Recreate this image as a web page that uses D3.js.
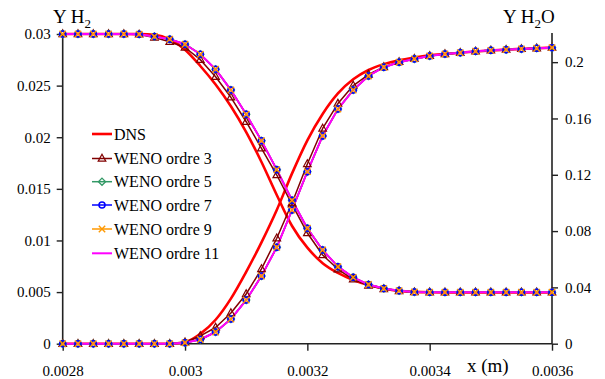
<!DOCTYPE html>
<html><head><meta charset="utf-8">
<script src="https://cdn.jsdelivr.net/npm/d3@7"></script>
<style>body{margin:0;background:#fff}svg{display:block}text{font-family:"Liberation Serif","Times New Roman",serif;fill:#000}</style>
</head><body><svg id="c" width="605" height="379"></svg>
<script>
// ---- data ----
const xPositions = [0.0028,0.002825,0.00285,0.002875,0.0029,0.002925,0.00295,0.002975,0.003,0.003025,0.00305,0.003075,0.0031,0.003125,0.00315,0.003175,0.0032,0.003225,0.00325,0.003275,0.0033,0.003325,0.00335,0.003375,0.0034,0.003425,0.00345,0.003475,0.0035,0.003525,0.00355,0.003575,0.0036];

const dnsH2 = [0.03,0.03,0.03,0.03,0.03,0.02999,0.02992,0.02948,0.02848,0.0269,0.0251,0.0230,0.0205,0.0176,0.0144,0.0114,0.0093,0.0078,0.00685,0.00617,0.00569,0.00535,0.00512,0.00502,0.00498,0.00497,0.00497,0.00497,0.00497,0.00497,0.00497,0.00497,0.00497];
const dnsH2O = [0,0,0,0,0,0,0,0,0.001,0.007,0.017,0.032,0.051,0.072,0.095,0.121,0.1445,0.1632,0.1778,0.1878,0.1944,0.1986,0.2014,0.2033,0.2048,0.2058,0.2067,0.2076,0.2083,0.2089,0.2094,0.2099,0.2103];

const weno3H2 = [0.03,0.03,0.03,0.03,0.03,0.02996,0.02966,0.02925,0.02869,0.02751,0.02586,0.02387,0.0215,0.01893,0.01634,0.0135,0.01072,0.00859,0.00721,0.00624,0.00564,0.0053,0.0051,0.005,0.00498,0.00498,0.00498,0.00498,0.00498,0.00498,0.00498,0.00498,0.00498];
const weno3H2O = [0,0,0,0,0,0,0,0,0.001,0.0055,0.0115,0.0218,0.0353,0.0531,0.0749,0.1,0.1277,0.1529,0.1706,0.1834,0.1912,0.1966,0.2002,0.2025,0.2045,0.2058,0.2067,0.2077,0.2084,0.2089,0.2094,0.2099,0.2103];

// orders 5, 7, 9 and 11 coincide in the figure
const wenoHighH2 = [0.03,0.03,0.03,0.03,0.03,0.02997,0.02976,0.0295,0.02901,0.02804,0.02658,0.02458,0.02222,0.01966,0.01686,0.0139,0.01118,0.00908,0.00746,0.00643,0.00573,0.00535,0.00513,0.00501,0.00498,0.00498,0.00498,0.00498,0.00498,0.00498,0.00498,0.00498,0.00498];
const wenoHighH2O = [0,0,0,0,0,0,0,0,0.0007,0.003,0.0083,0.0175,0.031,0.0481,0.0685,0.095,0.1222,0.1476,0.1667,0.1802,0.1902,0.1964,0.1999,0.2023,0.2044,0.2058,0.2067,0.2077,0.2084,0.2089,0.2094,0.2099,0.2103];

const seriesNames = ["DNS","WENO ordre 3","WENO ordre 5","WENO ordre 7","WENO ordre 9","WENO ordre 11"];
const xTicks = [0.0028,0.003,0.0032,0.0034,0.0036];
const xTickLabels = ["0.0028","0.003","0.0032","0.0034","0.0036"];
const leftTicks = [0,0.005,0.01,0.015,0.02,0.025,0.03];
const leftTickLabels = ["0","0.005","0.01","0.015","0.02","0.025","0.03"];
const rightTicks = [0,0.04,0.08,0.12,0.16,0.2];
const rightTickLabels = ["0","0.04","0.08","0.12","0.16","0.2"];

// ---- drawing ----
const svg = d3.select("#c");
const L = 62.7, R = 552, T = 34, B = 343.7;
const x = d3.scaleLinear().domain([0.0028,0.0036]).range([L,R]);
const yL = d3.scaleLinear().domain([0,0.03]).range([B,T]);
const yR = d3.scaleLinear().domain([0,0.22]).range([B,T]);

const styles = [
  {color:"#ff0000", w:2.6, marker:null, h2:dnsH2, h2o:dnsH2O, curve:d3.curveMonotoneX},
  {color:"#800000", w:1.5, marker:"tri", h2:weno3H2, h2o:weno3H2O, curve:d3.curveLinear},
  {color:"#339966", w:1.5, marker:"dia", h2:wenoHighH2, h2o:wenoHighH2O, curve:d3.curveLinear},
  {color:"#0000ff", w:1.5, marker:"circ", h2:wenoHighH2, h2o:wenoHighH2O, curve:d3.curveLinear},
  {color:"#ff9900", w:1.5, marker:"x", h2:wenoHighH2, h2o:wenoHighH2O, curve:d3.curveLinear},
  {color:"#ff00ff", w:2, marker:null, h2:wenoHighH2, h2o:wenoHighH2O, curve:d3.curveLinear}
];

// axes
const axisColor = "#222";
const gx = svg.append("g").attr("transform",`translate(0,${B})`)
  .call(d3.axisBottom(x).tickValues(xTicks).tickFormat((d,i)=>xTickLabels[i]).tickSize(7).tickPadding(15));
const gl = svg.append("g").attr("transform",`translate(${L},0)`)
  .call(d3.axisLeft(yL).tickValues(leftTicks).tickFormat((d,i)=>leftTickLabels[i]).tickSize(6).tickPadding(6));
const gr = svg.append("g").attr("transform",`translate(${R},0)`)
  .call(d3.axisRight(yR).tickValues(rightTicks).tickFormat((d,i)=>rightTickLabels[i]).tickSize(6).tickPadding(7));
[gx,gl,gr].forEach(g=>{
  g.attr("font-family","'Liberation Serif',serif");
  g.select(".domain").attr("stroke",axisColor).attr("stroke-width",1.6);
  g.selectAll(".tick line").attr("stroke",axisColor).attr("stroke-width",1.4);
  g.selectAll(".tick text").style("font-family","'Liberation Serif',serif").style("font-size","15px").attr("fill","#000");
});
gx.select(".domain").attr("d",`M${L},0H${R}`);
gl.select(".domain").attr("d",`M0,${T}V${B}`);
gr.select(".domain").attr("d",`M0,${T-1}V${B}`);

// lines
const plot = svg.append("g");
styles.forEach(s=>{
  const lH2 = d3.line().x((d,i)=>x(xPositions[i])).y(d=>yL(d)).curve(s.curve);
  const lH2O = d3.line().x((d,i)=>x(xPositions[i])).y(d=>yR(d)).curve(s.curve);
  plot.append("path").attr("d",lH2(s.h2)).attr("fill","none").attr("stroke",s.color).attr("stroke-width",s.w).attr("stroke-linejoin","round");
  plot.append("path").attr("d",lH2O(s.h2o)).attr("fill","none").attr("stroke",s.color).attr("stroke-width",s.w).attr("stroke-linejoin","round");
});

function drawMarker(g, type, color, cx, cy){
  if(type==="tri"){
    g.append("path").attr("d",`M${cx},${cy-4.2}L${cx+3.8},${cy+2.6}L${cx-3.8},${cy+2.6}Z`).attr("fill","none").attr("stroke",color).attr("stroke-width",1.2);
  } else if(type==="dia"){
    g.append("path").attr("d",`M${cx},${cy-3.6}L${cx+3.6},${cy}L${cx},${cy+3.6}L${cx-3.6},${cy}Z`).attr("fill","none").attr("stroke",color).attr("stroke-width",1.3);
  } else if(type==="circ"){
    g.append("circle").attr("cx",cx).attr("cy",cy).attr("r",3).attr("fill","none").attr("stroke",color).attr("stroke-width",1.5);
  } else if(type==="x"){
    g.append("path").attr("d",`M${cx-3.2},${cy-3.2}L${cx+3.2},${cy+3.2}M${cx+3.2},${cy-3.2}L${cx-3.2},${cy+3.2}`).attr("stroke",color).attr("stroke-width",1.4);
  }
}
const mk = svg.append("g");
styles.forEach(s=>{
  if(!s.marker) return;
  s.h2.forEach((v,i)=>drawMarker(mk,s.marker,s.color,x(xPositions[i]),yL(v)));
  s.h2o.forEach((v,i)=>drawMarker(mk,s.marker,s.color,x(xPositions[i]),yR(v)));
});

// legend
const lg = svg.append("g");
const legY = [134,158.5,181.7,205,229,253.3];
seriesNames.forEach((name,i)=>{
  const s = styles[i];
  lg.append("line").attr("x1",92).attr("x2",112).attr("y1",legY[i]).attr("y2",legY[i]).attr("stroke",s.color).attr("stroke-width",s.w);
  if(s.marker) drawMarker(lg,s.marker,s.color,102,legY[i]);
  lg.append("text").attr("x",114).attr("y",legY[i]+5.5).style("font-size","16px").text(name);
});

// axis titles
const t1 = svg.append("text").attr("x",53).attr("y",23).style("font-size","19px");
t1.append("tspan").text("Y H");
t1.append("tspan").attr("dy",5).style("font-size","13px").text("2");
const t2 = svg.append("text").attr("x",503).attr("y",23).style("font-size","19px");
t2.append("tspan").text("Y H");
t2.append("tspan").attr("dy",5).style("font-size","13px").text("2");
t2.append("tspan").attr("dy",-5).text("O");
svg.append("text").attr("x",467).attr("y",372).style("font-size","19px").text("x (m)");
</script>
</body></html>
